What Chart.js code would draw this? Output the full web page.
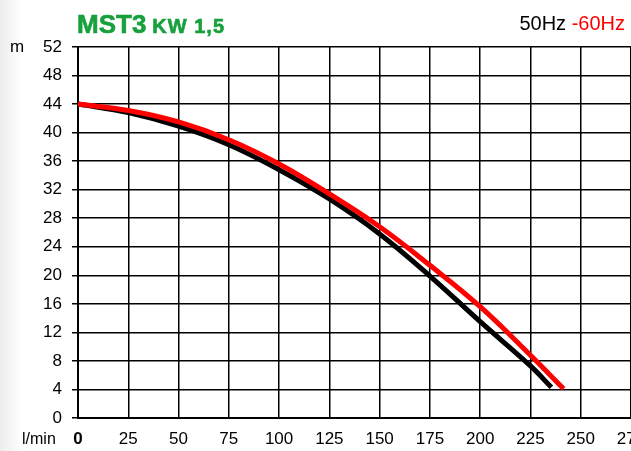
<!DOCTYPE html>
<html>
<head>
<meta charset="utf-8">
<script src="https://cdn.jsdelivr.net/npm/chart.js@4.4.0/dist/chart.umd.min.js"></script>
<style>
  html, body { margin: 0; padding: 0; width: 631px; height: 451px; overflow: hidden;
    background: linear-gradient(to right, #ececec 0px, #ffffff 22px); font-family: "Liberation Sans", Arial, sans-serif; }
  #wrap { position: relative; width: 631px; height: 451px; }
  canvas { position: absolute; left: 0; top: 0; }
  .t { position: absolute; white-space: nowrap; }
  #title { left: 77px; top: 9px; color: #17a03c; font-weight: bold; font-size: 26px; -webkit-text-stroke: 0.6px #17a03c; }
  #title small { font-size: 20px; letter-spacing: 1px; margin-left: 6px; }
  #freq { right: 6px; top: 12px; font-size: 20px; color: #000; }
  #freq span { color: #ff0000; }
  #m { left: 10px; top: 37px; font-size: 17px; }
  #lmin { left: 22px; top: 430px; font-size: 16px; }
</style>
</head>
<body>
<div id="wrap">
  <canvas id="pumpChart" width="631" height="451"></canvas>
  <div class="t" id="title">MST3<small>KW 1,5</small></div>
  <div class="t" id="freq">50Hz <span>-60Hz</span></div>
  <div class="t" id="m">m</div>
  <div class="t" id="lmin">l/min</div>
</div>
<script>
// flow (l/min) and head (m)
var flow50 = [0, 25, 50, 75, 100, 125, 150, 175, 200, 225, 235.4];
var head50 = [44, 42.8, 40.9, 38.3, 34.8, 30.7, 25.8, 19.9, 13.5, 7.3, 4.3];
var flow60 = [0, 25, 50, 75, 100, 125, 150, 175, 200, 225, 241.5];
var head60 = [44, 43.1, 41.5, 39.0, 35.6, 31.4, 26.8, 21.4, 15.6, 8.8, 4.1];

function toPoints(xs, ys) {
    return xs.map(function (x, i) { return { x: x, y: ys[i] }; });
}

var ctx = document.getElementById('pumpChart').getContext('2d');
var myChart = new Chart(ctx, {
    type: 'line',
    data: {
        datasets: [{
            label: '60Hz',
            data: toPoints(flow60, head60),
            borderColor: '#ff0000',
            borderWidth: 5,
            borderCapStyle: 'butt',
            pointRadius: 0,
            tension: 0.4
        }, {
            label: '50Hz',
            data: toPoints(flow50, head50),
            borderColor: '#000000',
            borderWidth: 5,
            borderCapStyle: 'butt',
            pointRadius: 0,
            tension: 0.4
        }]
    },
    options: {
        responsive: false,
        animation: false,
        layout: { padding: { top: 47, right: 0, bottom: 0, left: 0 } },
        plugins: {
            legend: { display: false },
            tooltip: { enabled: false }
        },
        scales: {
            x: {
                type: 'linear',
                min: 0,
                max: 275,
                border: { color: '#000', width: 2 },
                grid: { color: '#000', lineWidth: 1.5, drawTicks: false },
                ticks: {
                    stepSize: 25,
                    padding: 11,
                    color: '#000',
                    font: function (c) {
                        return { family: 'Liberation Sans', size: 17, weight: c.tick && c.tick.value === 0 ? 'bold' : 'normal' };
                    }
                },
                afterFit: function (s) { s.height = 33; s.paddingLeft = 0; s.paddingRight = 0; }
            },
            y: {
                min: 0,
                max: 52,
                border: { color: '#000', width: 2 },
                grid: {
                    color: function (c) { return c.tick && c.tick.value % 4 === 0 ? '#000' : 'rgba(0,0,0,0)'; },
                    tickColor: '#000',
                    lineWidth: 1.5,
                    tickLength: 6
                },
                ticks: {
                    stepSize: 2,
                    padding: 10,
                    color: '#000',
                    font: { family: 'Liberation Sans', size: 17 },
                    callback: function (v) { return v % 4 === 0 ? v : ''; }
                },
                afterFit: function (s) { s.width = 78; }
            }
        }
    }
});
</script>
</body>
</html>
